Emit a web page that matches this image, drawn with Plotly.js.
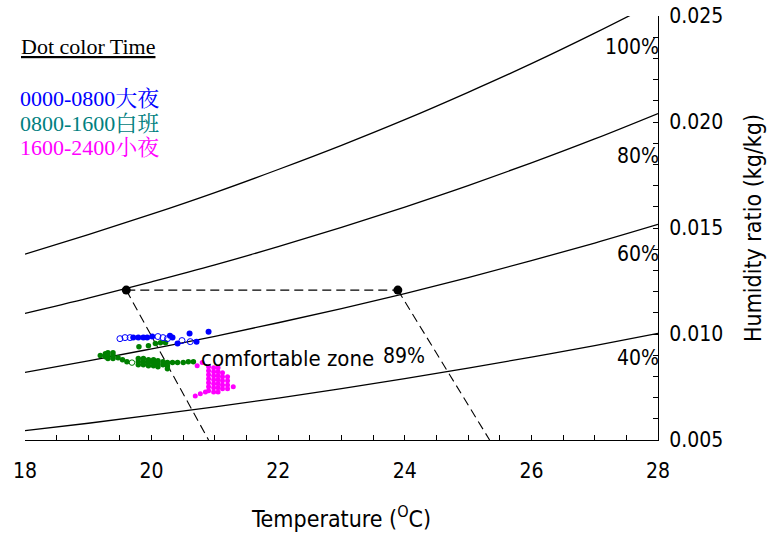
<!DOCTYPE html>
<html>
<head>
<meta charset="utf-8">
<script src="https://cdn.plot.ly/plotly-3.0.1.min.js"></script>
<style>html,body{margin:0;padding:0;background:#fff;}#chart{width:773px;height:536px;}</style>
</head>
<body>
<div id="chart"></div>
<script>
// Dry-bulb temperatures (°C) for relative-humidity curves
const temps = [18, 19, 20, 21, 22, 23, 24, 25, 26, 27, 28];
// Humidity ratio (kg/kg)
const rh100 = [0.01377, 0.01469, 0.01565, 0.01667, 0.01776, 0.01890, 0.02011, 0.02140, 0.02275, 0.02419, 0.02570];
const rh80  = [0.01097, 0.01169, 0.01246, 0.01326, 0.01412, 0.01503, 0.01599, 0.01700, 0.01807, 0.01920, 0.02040];
const rh60  = [0.00819, 0.00873, 0.00930, 0.00989, 0.01053, 0.01120, 0.01191, 0.01266, 0.01346, 0.01429, 0.01517];
const rh40  = [0.00544, 0.00579, 0.00617, 0.00656, 0.00698, 0.00742, 0.00789, 0.00839, 0.00891, 0.00945, 0.01003];
const rhLabels = ["100%", "80%", "60%", "40%"];
const rhLabelW = [0.02352, 0.01838, 0.01377, 0.00886];

// Reference state points and guide lines
const refT = [19.6, 23.89];
const refW = [0.01207, 0.01207];
const leftGuideT = [19.6, 20.9];
const leftGuideW = [0.01207, 0.005];
const rightGuideT = [23.89, 25.34];
const rightGuideW = [0.01207, 0.005];

// 0000-0800 (blue) measurements
const blueT = [19.71, 19.79, 19.87, 19.93, 20.01, 20.29, 20.33, 20.41, 20.60, 20.71, 20.90];
const blueW = [0.00983, 0.00983, 0.00983, 0.00983, 0.00988, 0.00992, 0.00983, 0.00955, 0.01002, 0.00964, 0.01011];
const blueOpenT = [19.50, 19.58, 19.66, 20.10, 20.18, 20.25, 20.48, 20.61];
const blueOpenW = [0.00978, 0.00983, 0.00983, 0.00988, 0.00983, 0.00978, 0.00969, 0.00964];

// 0800-1600 (green) measurements
const greenT = [19.19, 19.27, 19.27, 19.31, 19.31, 19.31, 19.39, 19.39, 19.39, 19.47, 19.54, 19.61,
  19.79, 19.79, 19.79, 19.87, 19.87, 19.87, 19.95, 19.95, 19.95, 20.03, 20.03, 20.03,
  20.10, 20.10, 20.10, 20.18, 20.18, 20.25, 20.25, 20.25, 20.33, 20.41, 20.50, 20.58, 20.66,
  19.80, 19.95, 20.06, 20.14, 20.22];
const greenW = [0.00898, 0.00893, 0.00907, 0.00912, 0.00898, 0.00884, 0.00912, 0.00898, 0.00884, 0.00888, 0.00879, 0.00869,
  0.00884, 0.00869, 0.00855, 0.00884, 0.00869, 0.00855, 0.00879, 0.00865, 0.00850, 0.00879, 0.00865, 0.00850,
  0.00874, 0.00860, 0.00846, 0.00869, 0.00855, 0.00865, 0.00850, 0.00836, 0.00865, 0.00865, 0.00865, 0.00869, 0.00869,
  0.00940, 0.00945, 0.00955, 0.00959, 0.00959];
const greenOpenT = [19.69];
const greenOpenW = [0.00865];

// 1600-2400 (magenta) measurements
const magentaT = [20.72, 20.80, 20.69, 20.77, 20.85,
  20.90, 20.90, 20.90, 20.90, 20.90, 20.90, 20.90,
  20.98, 20.98, 20.98, 20.98, 20.98, 20.98, 20.98,
  21.05, 21.05, 21.05, 21.05, 21.05, 21.05, 21.05,
  21.12, 21.12, 21.12, 21.12, 21.12,
  21.20, 21.20, 21.20, 21.20, 21.29];
const magentaW = [0.00850, 0.00865, 0.00708, 0.00718, 0.00727,
  0.00846, 0.00827, 0.00808, 0.00789, 0.00770, 0.00751, 0.00732,
  0.00841, 0.00822, 0.00803, 0.00784, 0.00765, 0.00746, 0.00727,
  0.00841, 0.00822, 0.00803, 0.00784, 0.00765, 0.00746, 0.00727,
  0.00817, 0.00798, 0.00779, 0.00760, 0.00742,
  0.00798, 0.00779, 0.00760, 0.00742, 0.00751];

const legendLines = [
  {text: "0000-0800大夜", color: "#0000FF"},
  {text: "0800-1600白班", color: "#008080"},
  {text: "1600-2400小夜", color: "#FF00FF"}
];

const sansFont = "DejaVu Sans Condensed, DejaVu Sans, sans-serif";
const serifFont = "Liberation Serif, Noto Serif CJK TC, Noto Sans CJK TC, serif";

function curve(y) {
  return {x: temps, y: y, mode: "lines", line: {color: "black", width: 1.3, shape: "spline", smoothing: 1}, hoverinfo: "skip"};
}
function dashed(x, y) {
  return {x: x, y: y, mode: "lines", line: {color: "black", width: 1.1, dash: "9px,5px"}, hoverinfo: "skip"};
}

const traces = [
  curve(rh100), curve(rh80), curve(rh60), curve(rh40),
  dashed(refT, refW), dashed(leftGuideT, leftGuideW), dashed(rightGuideT, rightGuideW),
  {x: greenT, y: greenW, mode: "markers", marker: {color: "#008000", size: 5.5}},
  {x: greenOpenT, y: greenOpenW, mode: "markers", marker: {color: "#008000", size: 5.5, symbol: "circle-open", line: {width: 1}}},
  {x: blueT, y: blueW, mode: "markers", marker: {color: "#0000FF", size: 6}},
  {x: blueOpenT, y: blueOpenW, mode: "markers", marker: {color: "#0000FF", size: 6, symbol: "circle-open", line: {width: 1}}},
  {x: magentaT, y: magentaW, mode: "markers", marker: {color: "#FF00FF", size: 5}},
  {x: refT, y: refW, mode: "markers", marker: {color: "black", size: 9}}
];

const annotations = [];
rhLabels.forEach((t, i) => annotations.push({
  x: 28, y: rhLabelW[i], xref: "x", yref: "y", text: t, showarrow: false,
  xanchor: "right", yanchor: "middle", xshift: 3, font: {family: sansFont, size: 21, color: "black"}
}));
annotations.push({x: 20.75, y: 0.00886, xref: "x", yref: "y", text: "comfortable zone", showarrow: false,
  xanchor: "left", yanchor: "middle", font: {family: sansFont, size: 22, color: "black"}});
annotations.push({x: 23.62, y: 0.00896, xref: "x", yref: "y", text: "89%", showarrow: false,
  xanchor: "left", yanchor: "middle", font: {family: sansFont, size: 21, color: "black"}});
annotations.push({x: -0.009, y: 0.927, xref: "paper", yref: "paper", text: "<u>Dot color Time</u>", showarrow: false,
  xanchor: "left", yanchor: "middle", font: {family: serifFont, size: 22, color: "black"}});
const legendY = [0.8066, 0.7476, 0.6887];
legendLines.forEach((l, i) => annotations.push({
  x: -0.011, y: legendY[i], xref: "paper", yref: "paper", text: l.text, showarrow: false,
  xanchor: "left", yanchor: "middle", font: {family: serifFont, size: 22, color: l.color}
}));

const layout = {
  width: 773, height: 536,
  margin: {l: 25, r: 115, t: 16, b: 96, pad: 0},
  paper_bgcolor: "white", plot_bgcolor: "white",
  showlegend: false,
  xaxis: {
    range: [18, 28], tick0: 18, dtick: 2, ticks: "inside", ticklen: 5, tickcolor: "black", tickwidth: 1,
    showline: true, linecolor: "black", linewidth: 1, showgrid: false, zeroline: false,
    tickfont: {family: sansFont, size: 21, color: "black"}, ticklabelstandoff: 12,
    minor: {dtick: 0.5, tick0: 18, ticks: "inside", ticklen: 5, tickcolor: "black", showgrid: false},
    title: {text: "Temperature (<sup>O</sup>C)", font: {family: sansFont, size: 23, color: "black"}, standoff: 28}
  },
  yaxis: {
    range: [0.005, 0.025], side: "right", tick0: 0.005, dtick: 0.005, tickformat: ".3f",
    ticks: "inside", ticklen: 5, tickcolor: "black", tickwidth: 1,
    showline: true, linecolor: "black", linewidth: 1, showgrid: false, zeroline: false,
    tickfont: {family: sansFont, size: 21, color: "black"}, ticklabelstandoff: 6,
    minor: {dtick: 0.001, tick0: 0.005, ticks: "inside", ticklen: 5, tickcolor: "black", showgrid: false},
    title: {text: "Humidity ratio (kg/kg)", font: {family: sansFont, size: 23, color: "black"}, standoff: 22}
  },
  annotations: annotations
};

Plotly.newPlot("chart", traces, layout, {displayModeBar: false, staticPlot: true});
</script>
</body>
</html>
